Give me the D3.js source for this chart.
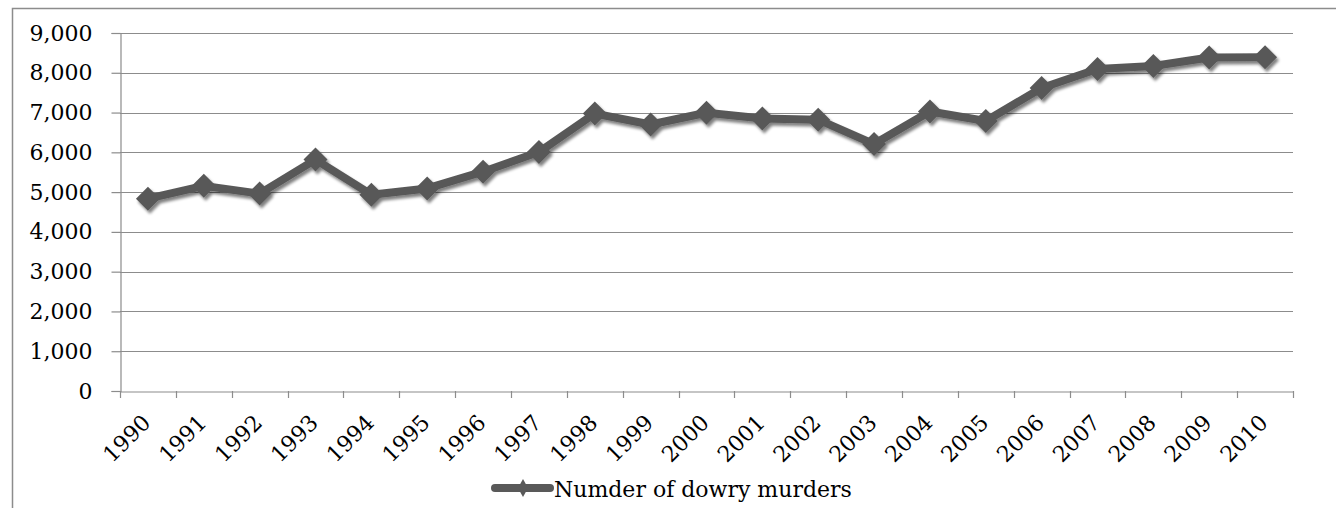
<!DOCTYPE html>
<html><head><meta charset="utf-8">
<script src="https://cdn.jsdelivr.net/npm/d3@7"></script>
<style>body{margin:0;background:#fff}svg{display:block}</style>
</head><body>
<svg id="c" width="1336" height="508"></svg>
<script>
const years = ["1990","1991","1992","1993","1994","1995","1996","1997","1998","1999","2000","2001","2002","2003","2004","2005","2006","2007","2008","2009","2010"];
const murders = [4836,5157,4962,5817,4935,5092,5513,6006,6975,6699,6995,6851,6822,6208,7026,6787,7618,8093,8172,8383,8391];
const yTicks = [0,1000,2000,3000,4000,5000,6000,7000,8000,9000];
const seriesName = "Numder of dowry murders";

(function(){
const svg = d3.select("#c");
const font = "'DejaVu Serif', serif";
const fs = 22;
const pL = 120, pR = 1293, pT = 33, pB = 391;

// frame
svg.append("path").attr("d","M12.5,508 V8.5 H1336").attr("fill","none").attr("stroke","#8c8c8c").attr("stroke-width",1.5);

const x = d3.scaleBand().domain(years).range([pL,pR]).padding(0);
const y = d3.scaleLinear().domain([0,9000]).range([pB,pT]);

const defs = svg.append("defs");
const f = defs.append("filter").attr("id","sh").attr("x","-50%").attr("y","-50%").attr("width","200%").attr("height","200%");
f.append("feGaussianBlur").attr("in","SourceAlpha").attr("stdDeviation",1.8);
f.append("feOffset").attr("dx",1.5).attr("dy",2.5).attr("result","o");
f.append("feComponentTransfer").append("feFuncA").attr("type","linear").attr("slope",0.5);
const m = f.append("feMerge"); m.append("feMergeNode"); m.append("feMergeNode").attr("in","SourceGraphic");

// gridlines
svg.append("g").selectAll("line").data(yTicks.filter(d=>d>0)).join("line")
  .attr("x1",pL).attr("x2",pR).attr("y1",d=>Math.round(y(d))+0.5).attr("y2",d=>Math.round(y(d))+0.5)
  .attr("stroke","#8c8c8c").attr("stroke-width",1.2);

// y axis
const ya = svg.append("g").attr("transform",`translate(${pL+0.5},0)`)
  .call(d3.axisLeft(y).tickValues(yTicks).tickFormat(d3.format(",")).tickSize(9).tickPadding(19));
ya.select(".domain").attr("stroke","#8c8c8c").attr("stroke-width",1.2);
ya.selectAll(".tick line").attr("stroke","#8c8c8c").attr("stroke-width",1.2);
ya.selectAll("text").attr("font-family",font).attr("font-size",fs).attr("fill","#000");

// x axis
const xa = svg.append("g").attr("transform",`translate(0,${pB+0.5})`)
  .call(d3.axisBottom(x).tickSize(0).tickFormat(""));
xa.select(".domain").attr("stroke","#8c8c8c").attr("stroke-width",1.2);
const bounds = years.map(d=>x(d)).concat([pR]);
svg.append("g").selectAll("line").data(bounds).join("line")
  .attr("x1",d=>Math.round(d)+0.5).attr("x2",d=>Math.round(d)+0.5).attr("y1",pB).attr("y2",pB+7)
  .attr("stroke","#8c8c8c").attr("stroke-width",1.2);
svg.append("g").selectAll("text").data(years).join("text")
  .attr("transform",d=>`translate(${x(d)+x.bandwidth()/2+4},${pB+33}) rotate(-45)`)
  .attr("text-anchor","end")
  .attr("font-family",font).attr("font-size",fs).attr("fill","#000").text(d=>d);

// series
const cx = d=>x(d)+x.bandwidth()/2;
const line = d3.line().x((d,i)=>cx(years[i])).y(d=>y(d));
const sg = svg.append("g").attr("filter","url(#sh)");
sg.append("path").datum(murders).attr("d",line).attr("fill","none").attr("stroke","#595959").attr("stroke-width",8).attr("stroke-linejoin","round");
const diamond = "M0,-12 L12,0 L0,12 L-12,0 Z";
sg.selectAll("path.mk").data(murders).join("path").attr("class","mk")
  .attr("transform",(d,i)=>`translate(${cx(years[i])},${y(d)})`).attr("d",diamond).attr("fill","#595959");

// legend
const lg = svg.append("g").attr("transform","translate(493,488)");
lg.append("line").attr("x1",2).attr("x2",57).attr("stroke","#595959").attr("stroke-width",8).attr("stroke-linecap","round");
lg.append("path").attr("d","M0,-9 L5,0 L0,9 L-5,0 Z").attr("transform","translate(30,0)").attr("fill","#595959");
lg.append("text").attr("x",61).attr("y",9).attr("font-family",font).attr("font-size",fs).attr("fill","#000").text(seriesName);
})();
</script>
</body></html>
